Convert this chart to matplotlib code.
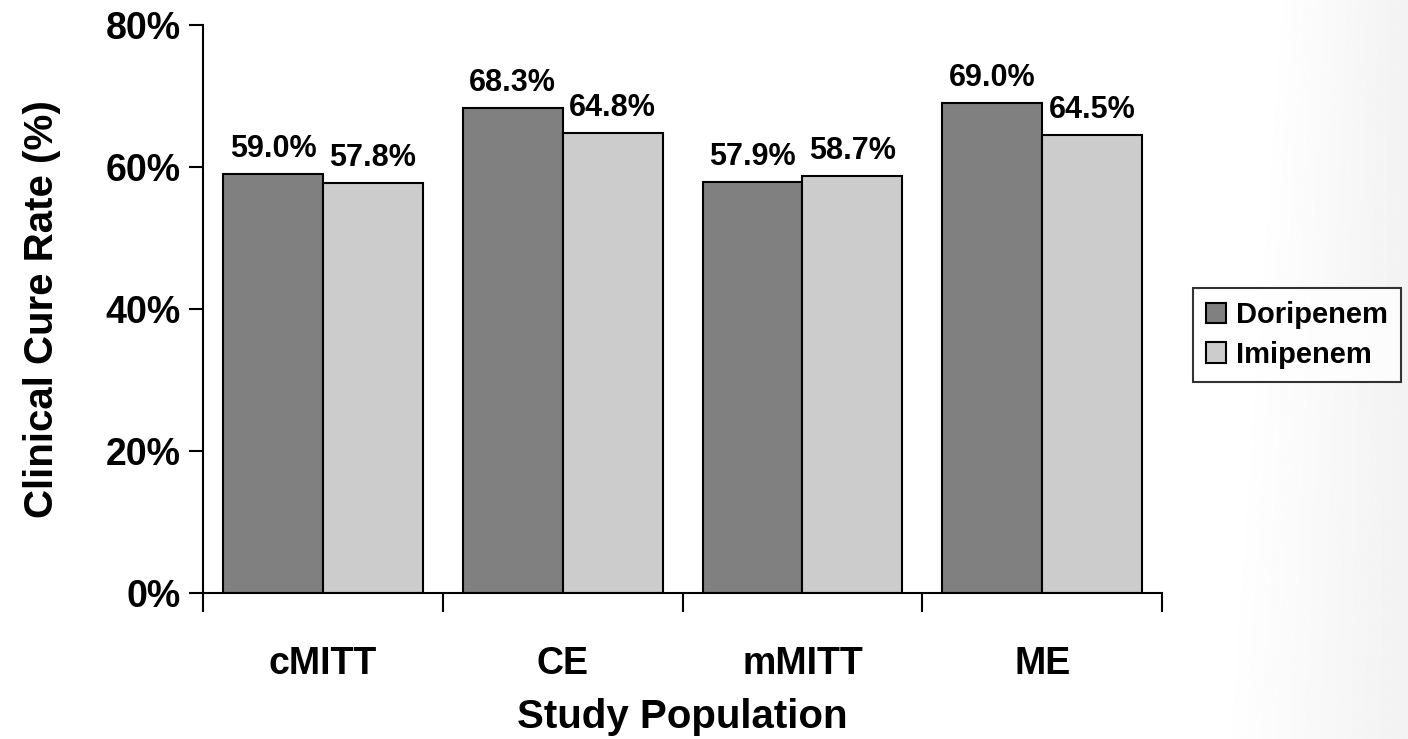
import numpy as np
import matplotlib.pyplot as plt

plt.rcParams['font.family'] = ['Liberation Sans', 'DejaVu Sans']
plt.rcParams['font.weight'] = 'bold'

populations = ['cMITT', 'CE', 'mMITT', 'ME']
doripenem = [59.0, 68.3, 57.9, 69.0]
imipenem = [57.8, 64.8, 58.7, 64.5]
series_names = ['Doripenem', 'Imipenem']
y_ticks = [0, 20, 40, 60, 80]

fig = plt.figure(figsize=(14.08, 7.39), dpi=100)

# faint diagonal grey fade on the right edge of the slide
bg = fig.add_axes([0, 0, 1, 1], zorder=-10)
gx, gy = np.meshgrid(np.linspace(0, 1, 700), np.linspace(1, 0, 370))
start = 0.905 - 0.04 * (1 - gy)
ramp = np.clip((gx - start) / (1 - start), 0, 1)
bg.imshow(1 - 0.05 * ramp, cmap='gray', vmin=0, vmax=1,
          aspect='auto', extent=[0, 1, 0, 1])
bg.axis('off')

ax = fig.add_axes([0.1442, 0.1976, 0.6811, 0.7686])
ax.patch.set_alpha(0)

x = np.arange(len(populations))
w = 100 / 240
b1 = ax.bar(x - w / 2, doripenem, w, color='#808080', edgecolor='black',
            linewidth=1.5, label=series_names[0])
b2 = ax.bar(x + w / 2, imipenem, w, color='#cccccc', edgecolor='black',
            linewidth=1.5, label=series_names[1])

for bars, vals in ((b1, doripenem), (b2, imipenem)):
    for bar, v in zip(bars, vals):
        ax.annotate(f'{v:.1f}%', (bar.get_x() + bar.get_width() / 2, v),
                    xytext=(0, 7), textcoords='offset points',
                    ha='center', va='bottom', fontsize=22, fontweight='bold')

ax.set_xlim(-0.5, len(populations) - 0.5)
ax.set_ylim(0, 80)
ax.set_yticks(y_ticks)
ax.set_yticklabels([f'{t}%' for t in y_ticks], fontsize=27, fontweight='bold')
ax.tick_params(axis='y', length=10, width=1.5, pad=6)

ax.set_xticks(x)
ax.set_xticklabels(populations, fontsize=27, fontweight='bold')
ax.tick_params(axis='x', which='major', length=0, pad=38)
ax.set_xticks(np.arange(len(populations) + 1) - 0.5, minor=True)
ax.tick_params(axis='x', which='minor', length=14, width=1.5, direction='out')

for side in ('top', 'right'):
    ax.spines[side].set_visible(False)
for side in ('left', 'bottom'):
    ax.spines[side].set_linewidth(1.5)

ax.set_xlabel('Study Population', fontsize=29, fontweight='bold', labelpad=12)
ax.set_ylabel('Clinical Cure Rate (%)', fontsize=29, fontweight='bold', labelpad=32)

leg = fig.legend(loc='center left', bbox_to_anchor=(0.847, 0.5467),
                 fontsize=21, frameon=True, fancybox=False,
                 handlelength=0.7, handleheight=0.7, handletextpad=0.35,
                 borderpad=0.45, labelspacing=0.4, borderaxespad=0)
leg.get_frame().set_edgecolor('black')
leg.get_frame().set_linewidth(1.5)
leg.get_frame().set_facecolor('white')
for t in leg.get_texts():
    t.set_fontweight('bold')

fig.savefig('out.png', dpi=100)
